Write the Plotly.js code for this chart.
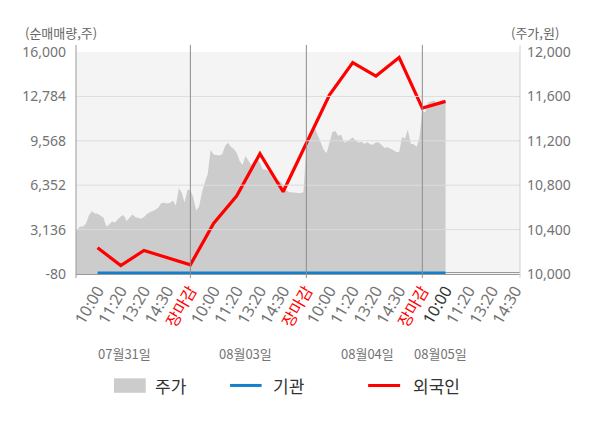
<!DOCTYPE html>
<html>
<head>
<meta charset="utf-8">
<script src="https://cdn.plot.ly/plotly-3.0.1.min.js"></script>
<style>
  html, body { margin: 0; padding: 0; background: #fff; }
</style>
</head>
<body>
<div id="chart" style="width:600px;height:428px"></div>
<script>
// x axis slots: one per time label, 장마감 closes each day
const timeLabels = [
  "10:00", "11:20", "13:20", "14:30", "장마감",
  "10:00", "11:20", "13:20", "14:30", "장마감",
  "10:00", "11:20", "13:20", "14:30", "장마감",
  "10:00", "11:20", "13:20", "14:30"
];
const dayLabels = ["07월31일", "08월03일", "08월04일", "08월05일"];
const dayLabelSlot = [2.17, 7.36, 12.64, 15.78];
const dayBreaks = [5, 10, 15];
const currentSlot = 16; // today's 10:00, drawn darker

// net buying (주), one value per slot 1..16
const flowSlots = [1, 2, 3, 4, 5, 6, 7, 8, 9, 10, 11, 12, 13, 14, 15, 16];
const foreignNet = [1824, 528, 1627, 1100, 579, 3582, 5582, 8637, 5875, 9391,
  12907, 15229, 14255, 15595, 11933, 12424];
const institutionNet = [0, 0, 0, 0, 0, 0, 0, 0, 0, 0, 0, 0, 0, 0, 0, 0];

// intraday price (원), one sample every 1/8 slot starting at slot 0
const priceStep = 0.125;
const price = [
  10355, 10400, 10427, 10427, 10455, 10527, 10566, 10545, 10543, 10523,
  10509, 10427, 10445, 10473, 10464, 10494, 10518, 10532, 10477, 10506,
  10536, 10514, 10503, 10497, 10514, 10541, 10556, 10566, 10579, 10602,
  10639, 10643, 10636, 10643, 10659, 10618, 10773, 10736, 10645, 10759,
  10755, 10691, 10573, 10609, 10736, 10827, 10900, 11118, 11077, 11073,
  11068, 11082, 11155, 11182, 11145, 11127, 11091, 11018, 10982, 11064,
  11018, 10982, 11014, 11045, 11000, 10941, 10941, 10923, 10895, 10859,
  10845, 10836, 10805, 10759, 10739, 10736, 10734, 10730, 10727, 10739,
  11145, 11255, 11318, 11309, 11245, 11191, 11118, 11091, 11186, 11282,
  11286, 11245, 11255, 11188, 11194, 11215, 11229, 11205, 11184, 11191,
  11173, 11186, 11168, 11164, 11186, 11184, 11159, 11135, 11141, 11130,
  11118, 11100, 11100, 11234, 11218, 11300, 11173, 11168, 11147, 11225,
  11473, 11455, 11545, 11555, 11564, 11541, 11550, 11541, 11545
];

const volumeTicks = [-80, 3136, 6352, 9568, 12784, 16000];
const priceTicks = [10000, 10400, 10800, 11200, 11600, 12000];

const FONT = '"Noto Sans", "Noto Sans CJK KR", sans-serif';
const KFONT = '"Noto Sans CJK KR", "Noto Sans", sans-serif';
const TICK_GRAY = "#737373";

function fmt(v) {
  return v.toLocaleString("en-US");
}

const slotVals = timeLabels.map((_, i) => i + 1);
const slotText = timeLabels.map((t, i) => {
  if (t === "장마감") return '<span style="color:#ff0000">' + t + "</span>";
  if (i + 1 === currentSlot) return '<span style="color:#333333">' + t + "</span>";
  return t;
});

const priceTrace = {
  x: price.map((_, i) => i * priceStep),
  y: price,
  type: "scatter",
  mode: "lines",
  fill: "tozeroy",
  fillcolor: "#cccccc",
  line: { width: 0, color: "#cccccc" },
  name: "주가",
  yaxis: "y",
  hoverinfo: "skip",
};

const institutionTrace = {
  x: flowSlots,
  y: institutionNet,
  type: "scatter",
  mode: "lines",
  line: { color: "#1380cc", width: 3 },
  name: "기관",
  yaxis: "y2",
};

const foreignTrace = {
  x: flowSlots,
  y: foreignNet,
  type: "scatter",
  mode: "lines",
  line: { color: "#ff0000", width: 3.2 },
  name: "외국인",
  yaxis: "y2",
};

// gridlines sit over the price area, so draw them as shapes
const shapes = [];
volumeTicks.slice(1, -1).forEach((v) => {
  shapes.push({
    type: "line", xref: "paper", x0: 0, x1: 1, yref: "y2", y0: v, y1: v,
    line: { color: "#dcdcdc", width: 1 }, layer: "above",
  });
});
// day separators, reaching above the plot and below the axis
dayBreaks.forEach((b) => {
  shapes.push({
    type: "line", xref: "x", x0: b, x1: b, yref: "paper", y0: -0.018, y1: 1.032,
    line: { color: "#8c8c8c", width: 1 }, layer: "above",
  });
});
shapes.push({
  type: "line", xref: "paper", x0: 0, x1: 0, yref: "paper", y0: -0.018, y1: 1.032,
  line: { color: "#999999", width: 1 }, layer: "above",
});
shapes.push({
  type: "line", xref: "paper", x0: 1, x1: 1, yref: "paper", y0: -0.018, y1: 1.032,
  line: { color: "#d0d0d0", width: 1 }, layer: "above",
});

// legend drawn by hand (wide swatches)
shapes.push({
  type: "rect", xref: "paper", yref: "paper",
  x0: 0.0856, x1: 0.157, y0: -0.535, y1: -0.470,
  fillcolor: "#cccccc", line: { width: 0 },
});
shapes.push({
  type: "line", xref: "paper", yref: "paper",
  x0: 0.347, x1: 0.418, y0: -0.502, y1: -0.502,
  line: { color: "#1380cc", width: 3 },
});
shapes.push({
  type: "line", xref: "paper", yref: "paper",
  x0: 0.658, x1: 0.730, y0: -0.502, y1: -0.502,
  line: { color: "#ff0000", width: 3 },
});

const annotations = [];
dayLabels.forEach((d, i) => {
  annotations.push({
    text: d, x: dayLabelSlot[i], xref: "x", y: -0.356, yref: "paper",
    xanchor: "center", yanchor: "middle", showarrow: false,
    font: { family: KFONT, size: 13, color: TICK_GRAY },
  });
});
annotations.push({
  text: "(순매매량,주)", x: -0.034, xref: "paper", y: 1.0856, yref: "paper",
  xanchor: "center", yanchor: "middle", showarrow: false,
  font: { family: KFONT, size: 13, color: "#666666" },
});
annotations.push({
  text: "(주가,원)", x: 1.0347, xref: "paper", y: 1.0856, yref: "paper",
  xanchor: "center", yanchor: "middle", showarrow: false,
  font: { family: KFONT, size: 13, color: "#666666" },
});
[["주가", 0.1734], ["기관", 0.439], ["외국인", 0.754]].forEach(([t, x]) => {
  annotations.push({
    text: t, x: x, xref: "paper", y: -0.502, yref: "paper",
    xanchor: "left", yanchor: "middle", showarrow: false,
    font: { family: KFONT, size: 17, color: "#333333" },
  });
});

const layout = {
  width: 600,
  height: 428,
  margin: { l: 76, r: 80, t: 52, b: 154 },
  paper_bgcolor: "#ffffff",
  plot_bgcolor: "#f4f4f4",
  showlegend: false,
  font: { family: FONT, size: 14, color: TICK_GRAY },
  xaxis: {
    range: [0.07, 19.21],
    tickvals: slotVals,
    ticktext: slotText,
    tickangle: -60,
    tickfont: { family: FONT, size: 16, color: TICK_GRAY },
    showgrid: false,
    zeroline: false,
    showline: true,
    linecolor: "#999999",
    ticks: "",
  },
  yaxis: {
    side: "right",
    range: [10000, 12000],
    tickvals: priceTicks,
    ticktext: priceTicks.map(fmt),
    showgrid: false,
    zeroline: false,
    ticks: "",
    ticklabelstandoff: 6,
    tickfont: { family: FONT, size: 14, color: TICK_GRAY },
  },
  yaxis2: {
    side: "left",
    overlaying: "y",
    range: [-80, 16000],
    tickvals: volumeTicks,
    ticktext: volumeTicks.map(fmt),
    showgrid: false,
    zeroline: true,
    zerolinecolor: "#999999",
    zerolinewidth: 1,
    ticks: "",
    ticklabelstandoff: 9,
    tickfont: { family: FONT, size: 14, color: TICK_GRAY },
  },
  shapes: shapes,
  annotations: annotations,
};

Plotly.newPlot("chart", [priceTrace, institutionTrace, foreignTrace], layout, {
  displayModeBar: false,
  staticPlot: true,
});
</script>
</body>
</html>
